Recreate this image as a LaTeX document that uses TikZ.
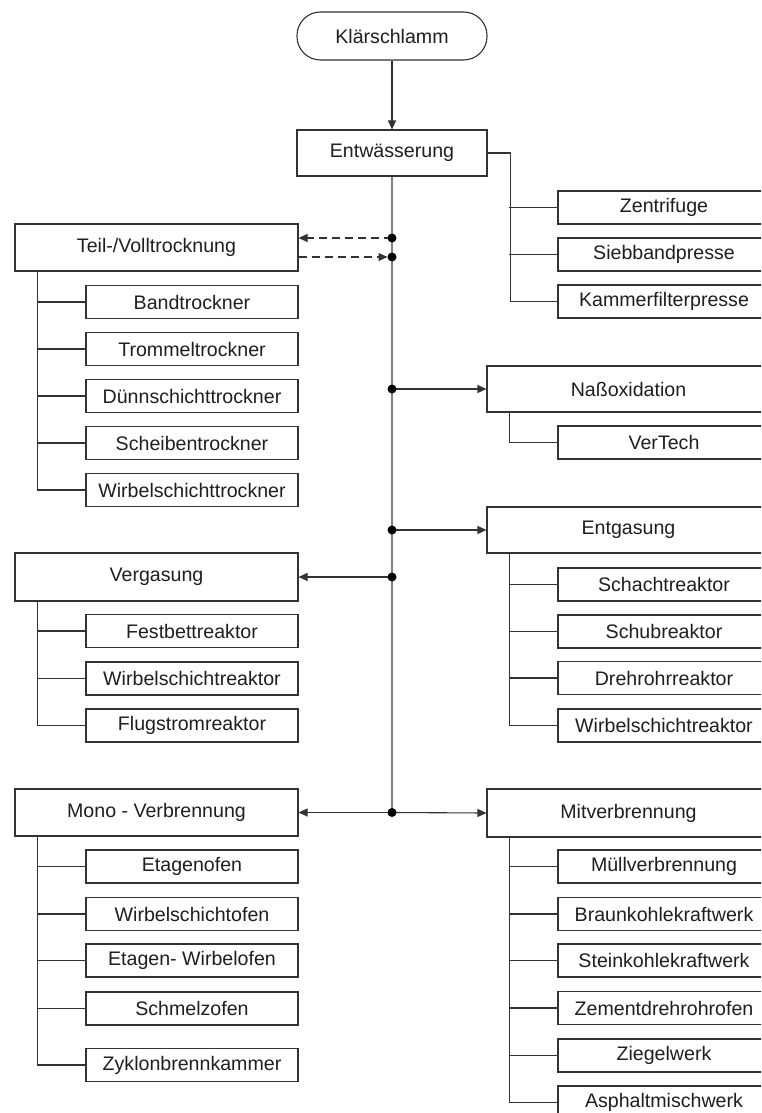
\documentclass[tikz,border=0pt]{standalone}
\usepackage{fontspec}
\setmainfont{Liberation Sans}
\usetikzlibrary{arrows.meta}
\begin{document}
\begin{tikzpicture}[x=1pt,y=-1pt,
  lbl/.style={draw=black!80, line width=1.1pt, inner sep=0pt, text=black!88,
    font=\fontsize{19.6}{23}\selectfont},
  mainbox/.style={lbl, minimum width=283pt, minimum height=47pt},
  subbox/.style={lbl, minimum width=212pt, minimum height=33pt},
  topbox/.style={lbl, minimum width=190pt, minimum height=47pt},
  conn/.style={draw=black!80, line width=1.1pt},
  trunk/.style={draw=black!50, line width=1.5pt},
  arr/.style={conn, -{Triangle[length=9pt,width=8pt]}},
  dasharr/.style={arr, dash pattern=on 8pt off 5pt},
  junction/.style={circle, fill=black, inner sep=0pt, minimum size=9pt}
]
\useasboundingbox (0,0) rectangle (761,1113);
\clip (0,0) rectangle (761,1113);
\fill[white] (0,0) rectangle (761,1113);

% top
\node[topbox, rounded corners=23.5pt, minimum height=48pt] (klaer) at (392,36) {Klärschlamm};
\node[topbox, minimum height=46pt] (entw) at (392,153) {Entwässerung};

% right of Entwässerung
\node[subbox] (zen) at (664,207.5) {Zentrifuge};
\node[subbox] (sieb) at (664,254.5) {Siebbandpresse};
\node[subbox] (kam) at (664,301.5) {Kammerfilterpresse};

% main boxes
\node[mainbox] (teil) at (156.5,247.5) {Teil-/Volltrocknung};
\node[mainbox, minimum height=46pt] (nass) at (628.5,389) {Naßoxidation};
\node[mainbox, minimum height=46pt] (entg) at (628.5,530) {Entgasung};
\node[mainbox, minimum height=48pt] (verg) at (156.5,577) {Vergasung};
\node[mainbox] (mono) at (156.5,812.5) {Mono - Verbrennung};
\node[mainbox, minimum height=48pt] (mit) at (628.5,813) {Mitverbrennung};

% Teil subs
\node[subbox] (t1) at (192,302) {Bandtrockner};
\node[subbox] (t2) at (192,349) {Trommeltrockner};
\node[subbox] (t3) at (192,396) {Dünnschichttrockner};
\node[subbox] (t4) at (192,443) {Scheibentrockner};
\node[subbox] (t5) at (192,490) {Wirbelschichttrockner};

% Naß sub
\node[subbox] (n1) at (664,442.5) {VerTech};

% Vergasung subs
\node[subbox] (v1) at (192,631) {Festbettreaktor};
\node[subbox] (v2) at (192,678.5) {Wirbelschichtreaktor};
\node[subbox] (v3) at (192,725.5) {Flugstromreaktor};

% Entgasung subs
\node[subbox] (e1) at (664,584.5) {Schachtreaktor};
\node[subbox] (e2) at (664,631.5) {Schubreaktor};
\node[subbox] (e3) at (664,678) {Drehrohrreaktor};
\node[subbox] (e4) at (664,725.5) {Wirbelschichtreaktor};

% Mono subs
\node[subbox] (m1) at (192,866.5) {Etagenofen};
\node[subbox] (m2) at (192,914) {Wirbelschichtofen};
\node[subbox] (m3) at (192,960.5) {Etagen- Wirbelofen};
\node[subbox] (m4) at (192,1008.5) {Schmelzofen};
\node[subbox] (m5) at (192,1065) {Zyklonbrennkammer};

% Mit subs
\node[subbox] (c1) at (664,866.5) {Müllverbrennung};
\node[subbox] (c2) at (664,914) {Braunkohlekraftwerk};
\node[subbox] (c3) at (664,960.5) {Steinkohlekraftwerk};
\node[subbox] (c4) at (664,1008) {Zementdrehrohrofen};
\node[subbox] (c5) at (664,1055.5) {Ziegelwerk};
\node[subbox] (c6) at (664,1102.5) {Asphaltmischwerk};

% junction coordinates
\coordinate (j1) at (392,238);
\coordinate (j2) at (392,257);
\coordinate (j3) at (392,389);
\coordinate (j4) at (392,530);
\coordinate (j5) at (392,577);
\coordinate (j6) at (392,812.5);

% trunk
\draw[trunk] (entw.south) -- (j6);
\draw[arr] (klaer) -- (entw);

% Entwässerung branches
\draw[conn] (entw.east) -- ++(23,0) |- (kam.west);
\foreach \n in {zen,sieb} \draw[conn] (\n.west) -- ++(-48,0);

% arrows from trunk
\draw[dasharr] (j1) -- (teil.east |- j1);
\draw[dasharr] (teil.east |- j2) -- ([xshift=-4.5pt]j2);
\draw[arr] (j3) -- (nass.west);
\draw[arr] (j4) -- (entg.west);
\draw[arr] (j5) -- (verg.east);
\draw[arr] (j6) -- (mono.east);
\draw[arr] (j6) -- (mit.west);

% junction dots
\foreach \j in {j1,j2,j3,j4,j5,j6} \node[junction] at (\j) {};

% sub-trees
\draw[conn] ([xshift=23pt]teil.south west) |- (t5.west);
\foreach \n in {t1,t2,t3,t4} \draw[conn] (\n.west) -- ++(-48,0);

\draw[conn] ([xshift=23pt]nass.south west) |- (n1.west);

\draw[conn] ([xshift=23pt]verg.south west) |- (v3.west);
\foreach \n in {v1,v2} \draw[conn] (\n.west) -- ++(-48,0);

\draw[conn] ([xshift=23pt]entg.south west) |- (e4.west);
\foreach \n in {e1,e2,e3} \draw[conn] (\n.west) -- ++(-48,0);

\draw[conn] ([xshift=23pt]mono.south west) |- (m5.west);
\foreach \n in {m1,m2,m3,m4} \draw[conn] (\n.west) -- ++(-48,0);

\draw[conn] ([xshift=23pt]mit.south west) |- (c6.west);
\foreach \n in {c1,c2,c3,c4,c5} \draw[conn] (\n.west) -- ++(-48,0);
\end{tikzpicture}
\end{document}
